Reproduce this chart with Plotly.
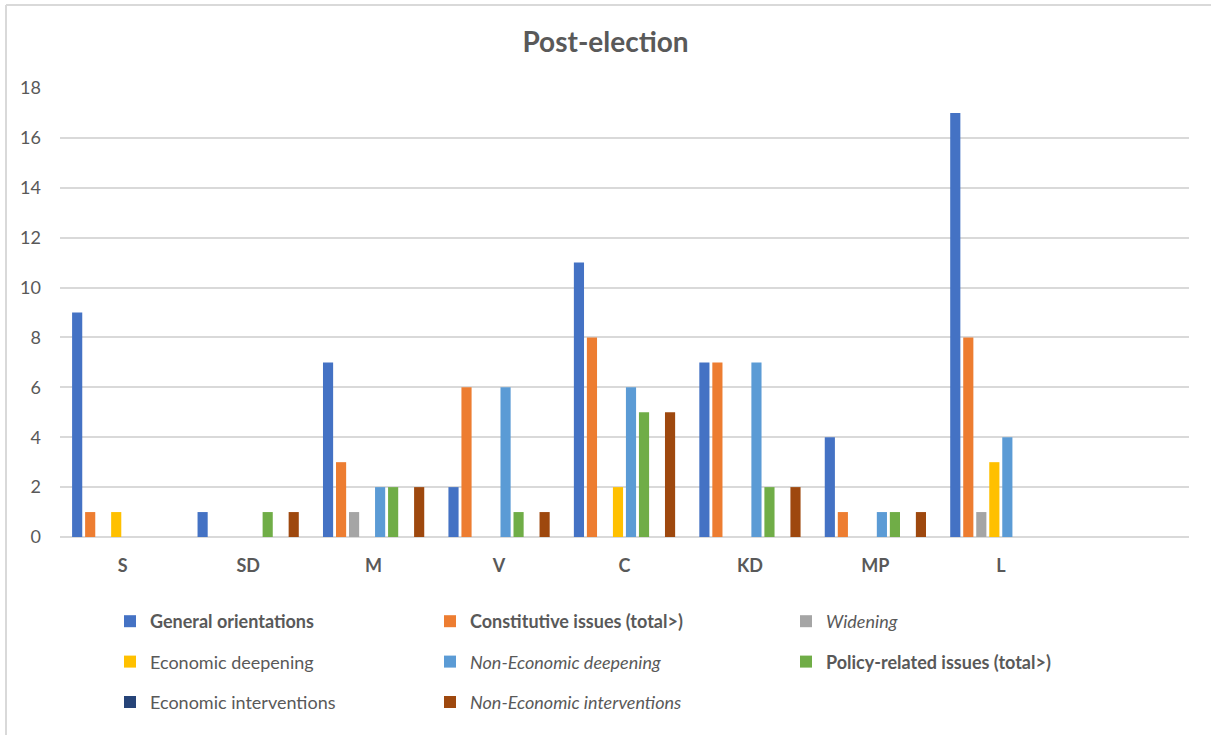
import plotly.graph_objects as go

parties = ["S", "SD", "M", "V", "C", "KD", "MP", "L"]

general_orientations = [9, 1, 7, 2, 11, 7, 4, 17]
constitutive_issues = [1, 0, 3, 6, 8, 7, 1, 8]
widening = [0, 0, 1, 0, 0, 0, 0, 1]
economic_deepening = [1, 0, 0, 0, 2, 0, 0, 3]
non_economic_deepening = [0, 0, 2, 6, 6, 7, 1, 4]
policy_related_issues = [0, 1, 2, 1, 5, 2, 1, 0]
economic_interventions = [0, 0, 0, 0, 0, 0, 0, 0]
non_economic_interventions = [0, 1, 2, 1, 5, 2, 1, 0]

# (label, values, colour, legend column)
series = [
    ("<b>General orientations</b>", general_orientations, "#4472C4", "legend"),
    ("<b>Constitutive issues (total>)</b>", constitutive_issues, "#ED7D31", "legend2"),
    ("<i>Widening</i>", widening, "#A5A5A5", "legend3"),
    ("Economic deepening", economic_deepening, "#FFC000", "legend"),
    ("<i>Non-Economic deepening</i>", non_economic_deepening, "#5B9BD5", "legend2"),
    ("<b>Policy-related issues (total>)</b>", policy_related_issues, "#70AD47", "legend3"),
    ("Economic interventions", economic_interventions, "#264478", "legend"),
    ("<i>Non-Economic interventions</i>", non_economic_interventions, "#9E480E", "legend2"),
]

FONT = "Lato, 'Open Sans', sans-serif"
GREY = "#595959"

fig = go.Figure()
for i, (name, vals, color, leg) in enumerate(series):
    fig.add_trace(go.Bar(
        x=parties, y=vals, name=name, marker_color=color,
        marker_line_width=0, legend=leg, legendgroup=f"g{i}",
    ))

# plot area geometry in pixels
L, R, T, B = 60, 22, 88, 198
W, H = 1211, 735
pw, ph = W - L - R, H - T - B


def px_x(x):
    return (x - L) / pw


def px_y(y):
    return (H - B - y) / ph


legend_common = dict(
    orientation="v", itemwidth=30, tracegroupgap=14,
    xanchor="left", yanchor="top",
    font=dict(family=FONT, size=18, color=GREY),
    bgcolor="rgba(0,0,0,0)", itemclick=False, itemdoubleclick=False,
)
legend_top = 603

fig.update_layout(
    width=W, height=H,
    margin=dict(l=L, r=R, t=T, b=B, autoexpand=False),
    paper_bgcolor="white", plot_bgcolor="white",
    barmode="group", bargap=0.17, bargroupgap=0.22,
    title=dict(text="<b>Post-election</b>", x=0.5, xanchor="center",
               y=1 - 42 / H, yanchor="middle",
               font=dict(family=FONT, size=28, color=GREY)),
    font=dict(family=FONT, color=GREY),
    legend=dict(x=px_x(110), y=px_y(legend_top), **legend_common),
    legend2=dict(x=px_x(430), y=px_y(legend_top), **legend_common),
    legend3=dict(x=px_x(786), y=px_y(legend_top), **legend_common),
    xaxis=dict(
        type="category", range=[-0.5, 8.5], showgrid=False,
        showline=False, zeroline=False, ticks="",
        tickfont=dict(family=FONT, size=18, color=GREY, weight="bold"),
        ticklabelstandoff=16,
    ),
    yaxis=dict(
        range=[0, 18], dtick=2, showgrid=True, gridcolor="#D9D9D9",
        gridwidth=1.5, zeroline=True, zerolinecolor="#D9D9D9",
        zerolinewidth=2, showline=False, ticks="",
        tickfont=dict(family=FONT, size=18, color=GREY),
        ticklabelstandoff=18,
    ),
    shapes=[
        dict(type="line", xref="paper", yref="paper",
             x0=px_x(6), x1=px_x(1215), y0=px_y(5), y1=px_y(5),
             line=dict(color="#D9D9D9", width=2)),
        dict(type="line", xref="paper", yref="paper",
             x0=px_x(6), x1=px_x(6), y0=px_y(5), y1=px_y(740),
             line=dict(color="#D9D9D9", width=2)),
    ],
)

fig.write_html("out.html")
